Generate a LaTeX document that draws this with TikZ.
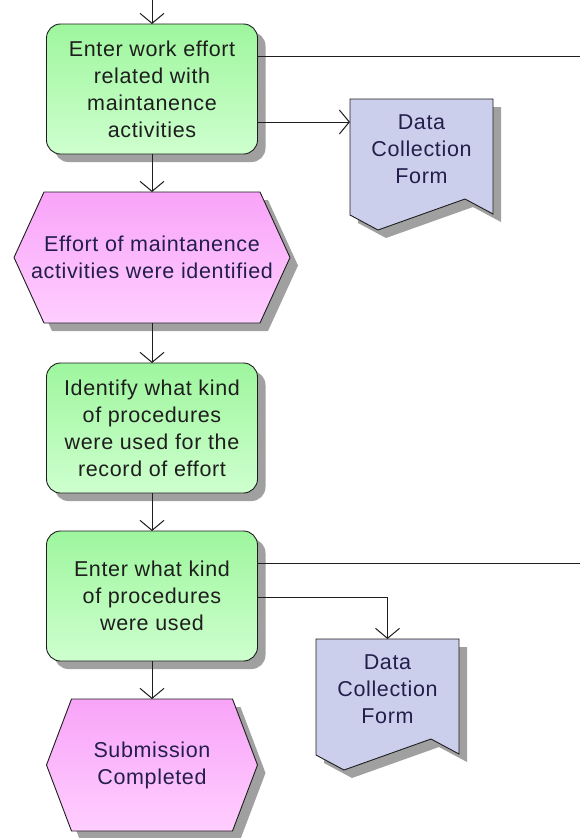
\documentclass[tikz,border=0pt]{standalone}
\usepackage{fontspec}
\setmainfont{Liberation Sans}
\newfontfamily\lblfont[LetterSpace=3]{Liberation Sans}
\usetikzlibrary{arrows.meta,shadows,calc}
\pgfdeclarelayer{bg}
\pgfsetlayers{bg,main}
\definecolor{greentop}{RGB}{158,246,158}
\definecolor{greenbot}{RGB}{206,255,206}
\definecolor{pinktop}{RGB}{248,164,248}
\definecolor{pinkbot}{RGB}{255,206,255}
\definecolor{docfill}{RGB}{204,207,235}
\definecolor{shade}{RGB}{160,160,160}
\definecolor{ink}{RGB}{30,30,30}
\definecolor{inkblue}{RGB}{35,30,75}

\begin{document}
\begin{tikzpicture}[x=1pt,y=-1pt,
  txt/.style={font=\lblfont\fontsize{21.5}{27}\selectfont, align=center, text=ink},
  procbox/.style={txt, rectangle, rounded corners=14pt, draw=ink, line width=0.9pt,
    top color=greentop, bottom color=greenbot,
    minimum width=211pt, minimum height=130pt, inner sep=0pt, outer sep=0pt,
    drop shadow={shadow xshift=8pt, shadow yshift=-8pt, fill=shade, opacity=1}},
  evt/.style={txt, text=inkblue, rectangle, inner sep=0pt, outer sep=0pt, minimum height=131pt},
  docnode/.style={rectangle, inner sep=0pt, outer sep=0pt, minimum width=143pt, minimum height=131pt},
  doctext/.style={txt, text=inkblue},
  hexfill/.style={draw=ink, line width=0.9pt, top color=pinktop, bottom color=pinkbot},
  docfillst/.style={draw=ink, line width=0.9pt, fill=docfill},
  shadowfill/.style={fill=shade, transform canvas={xshift=8pt, yshift=-8pt}},
  arr/.style={draw=ink, line width=1pt, -{Straight Barb[length=10pt,width=24pt,line width=1pt]}},
  ln/.style={draw=ink, line width=1pt}
]
\useasboundingbox (0,0) rectangle (580,838);

% process steps
\node[procbox] (b1) at (152,89) {Enter work effort\\related with\\maintanence\\activities};
\node[procbox] (b2) at (152,428) {Identify what kind\\of procedures\\were used for the\\record of effort};
\node[procbox] (b3) at (152,596) {Enter what kind\\of procedures\\were used};

% events (hexagons drawn on the background layer)
\node[evt, minimum width=276pt] (h1) at (152,257.5) {Effort of maintanence\\activities were identified};
\node[evt, minimum width=211pt, minimum height=132pt] (h2) at (152,765) {Submission\\Completed};

% documents
\node[docnode, anchor=north west,
  label={[doctext, yshift=15.5pt]center:{Data\\Collection\\Form}}] (d1) at (350,99) {};
\node[docnode, anchor=north west,
  label={[doctext, yshift=15.5pt]center:{Data\\Collection\\Form}}] (d2) at (316,639) {};

\begin{pgfonlayer}{bg}
  \fill[white] (0,0) rectangle (580,838);
  \foreach \h/\d in {h1/30,h2/25} {
    \fill[shadowfill] (\h.west) -- ([xshift=\d pt]\h.north west) -- ([xshift=-\d pt]\h.north east)
      -- (\h.east) -- ([xshift=-\d pt]\h.south east) -- ([xshift=\d pt]\h.south west) -- cycle;
    \path[hexfill] (\h.west) -- ([xshift=\d pt]\h.north west) -- ([xshift=-\d pt]\h.north east)
      -- (\h.east) -- ([xshift=-\d pt]\h.south east) -- ([xshift=\d pt]\h.south west) -- cycle;
  }
  \foreach \dd in {d1,d2} {
    \begin{scope}[shift={(\dd.north west)}]
      \fill[shadowfill] (0,0) -- (143,0) -- (143,115) -- (115,100) -- (28,131) -- (0,116) -- cycle;
      \path[docfillst] (0,0) -- (143,0) -- (143,115) -- (115,100) -- (28,131) -- (0,116) -- cycle;
    \end{scope}
  }
\end{pgfonlayer}

% connectors
\coordinate (src) at (152,0);
\coordinate (e1) at (580,56);
\coordinate (e3) at (580,563);
\coordinate (p1) at ([yshift=32pt]b1.south east);
\coordinate (p3) at ([yshift=-66pt]b3.north east);

\draw[arr] (src) -- (b1.north);
\draw[arr] (b1.south) -- (h1.north);
\draw[arr] (h1.south) -- (b2.north);
\draw[arr] (b2.south) -- (b3.north);
\draw[arr] (b3.south) -- (h2.north);
\draw[ln] ([yshift=-32pt]b1.north east) -- (e1);
\draw[arr] (p1) -- (p1 -| d1.west);
\draw[ln] ([yshift=-32pt]b3.north east) -- (e3);
\draw[arr] (p3) -| (d2.north);
\end{tikzpicture}
\end{document}
